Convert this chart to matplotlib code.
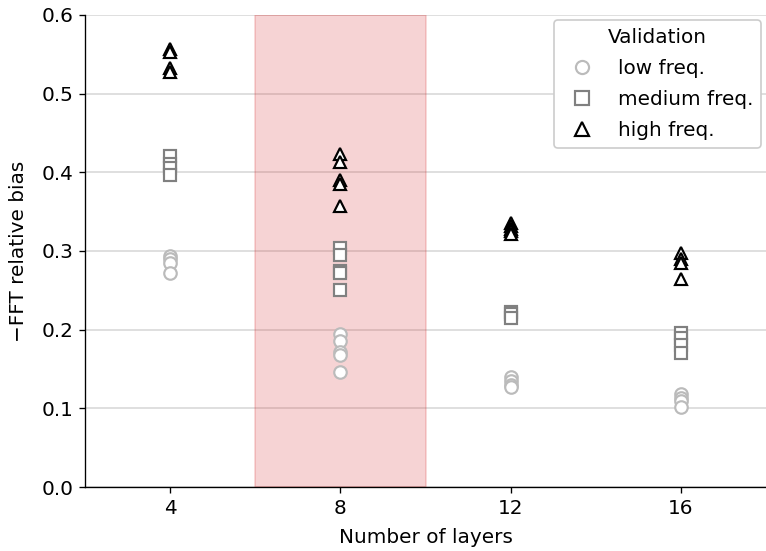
import matplotlib
matplotlib.use("Agg")
import matplotlib.pyplot as plt
import numpy as np

layers = [4, 8, 12, 16]
low_freq = [
    [0.293, 0.290, 0.285, 0.272],
    [0.195, 0.186, 0.172, 0.168, 0.146],
    [0.140, 0.135, 0.130, 0.127],
    [0.118, 0.113, 0.110, 0.102],
]
medium_freq = [
    [0.421, 0.410, 0.405, 0.397],
    [0.304, 0.295, 0.275, 0.272, 0.251],
    [0.223, 0.220, 0.215],
    [0.196, 0.190, 0.180, 0.170],
]
high_freq = [
    [0.557, 0.553, 0.533, 0.527],
    [0.423, 0.413, 0.390, 0.385, 0.357],
    [0.335, 0.332, 0.328, 0.325, 0.322],
    [0.298, 0.290, 0.285, 0.265],
]
series_labels = ["low freq.", "medium freq.", "high freq."]
xlabel = "Number of layers"
ylabel = "\u2212FFT relative bias"
legend_title = "Validation"

DPI = 120
fig = plt.figure(figsize=(766 / DPI, 551 / DPI), dpi=DPI)
ax = fig.add_axes([0.111, 0.116, 0.889, 0.857])

ax.axvspan(6, 10, color="tab:red", alpha=0.2, lw=1.0)

styles = [
    dict(marker="o", color="#bbbbbb"),
    dict(marker="s", color="#808080"),
    dict(marker="^", color="black"),
]
for data, st, lab in zip([low_freq, medium_freq, high_freq], styles, series_labels):
    xs, ys = [], []
    for L, vals in zip(layers, data):
        xs += [L] * len(vals)
        ys += vals
    ax.plot(xs, ys, linestyle="none", marker=st["marker"], markersize=7.5,
            markerfacecolor="white", markeredgecolor=st["color"],
            markeredgewidth=1.3, label=lab)

ax.set_xlim(2, 18)
ax.set_ylim(0, 0.6)
ax.set_xticks(layers)
ax.set_yticks(np.arange(0, 0.61, 0.1))
ax.yaxis.grid(True, color="#d9d9d9", lw=1.0)
ax.set_axisbelow(True)
for s in ["top", "right"]:
    ax.spines[s].set_visible(False)
ax.tick_params(labelsize=12)
ax.set_xlabel(xlabel, fontsize=12, labelpad=6)
ax.set_ylabel(ylabel, fontsize=12, labelpad=8)
leg = ax.legend(title=legend_title, loc="upper right", fontsize=12,
                title_fontsize=12, framealpha=1, bbox_to_anchor=(1.0, 1.0),
                borderaxespad=0.25, labelspacing=0.6, markerscale=1.05)

fig.savefig("out.png", dpi=DPI)
